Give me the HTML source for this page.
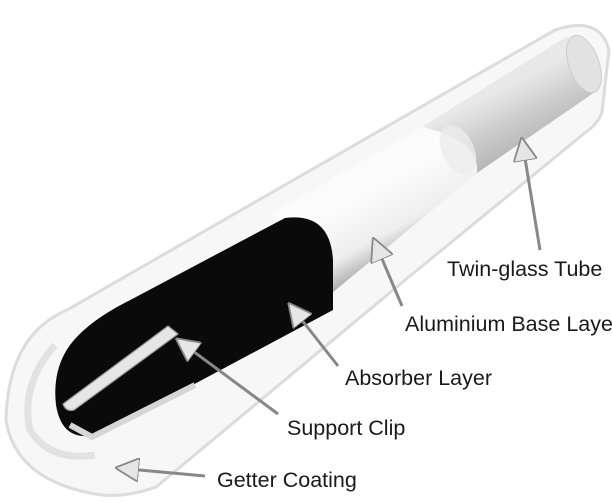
<!DOCTYPE html>
<html><head><style>
body{margin:0;background:#fff;}
svg{display:block}
text{font-family:"Liberation Sans",sans-serif;font-size:21.5px;fill:#1a1a1a}
</style></head><body>
<svg width="612" height="503" viewBox="0 0 612 503" xmlns="http://www.w3.org/2000/svg">
<defs>
<linearGradient id="alu" x1="330" y1="215" x2="370" y2="290" gradientUnits="userSpaceOnUse">
<stop offset="0" stop-color="#fbfbfb"/><stop offset="0.5" stop-color="#eeeeee"/><stop offset="1" stop-color="#8a8a8a"/></linearGradient>
<linearGradient id="inn" x1="500" y1="90" x2="530" y2="150" gradientUnits="userSpaceOnUse">
<stop offset="0" stop-color="#e8e8e8"/><stop offset="0.5" stop-color="#cccccc"/><stop offset="1" stop-color="#b4b4b4"/></linearGradient>
<marker id="ah" markerWidth="8" markerHeight="8" refX="1" refY="4" orient="auto" markerUnits="strokeWidth">
<path d="M8,0 L0,4 L8,8 Z" fill="#e6e6e6" stroke="#888" stroke-width="0.6"/></marker>
</defs>
<path d="M555,30 Q600,15 609,50 L602,112 Q598,124 586,132 L410,276 L156,487 Q120,500 90,493 Q15,478 6,420 Q8,335 67,310 Z" fill="#f7f7f7" stroke="#dcdcdc" stroke-width="3"/>
<path d="M422,127 L566,37 Q600,45 598,90 L477,173 Z" fill="url(#inn)"/>
<ellipse cx="584" cy="64" rx="15" ry="30" transform="rotate(-20 584 64)" fill="#e2e2e2" stroke="#cccccc"/>
<path d="M273,213 L422,127 Q480,140 477,173 L332,293 Z" fill="url(#alu)"/>
<ellipse cx="458" cy="150" rx="16" ry="26" transform="rotate(-25 458 150)" fill="#ececec" opacity="0.8"/>
<path d="M117,307 L285,218 Q330,212 333,260 L333,310 L187,388 L95,435 Q62,442 56,405 Q52,370 70,345 Q85,325 117,307 Z" fill="#0a0a0a"/>
<path d="M168,326 L178,334 L74,410 Q66,412 63,404 Z" fill="#e6e6e6" stroke="#9a9a9a" stroke-width="1.2"/>
<path d="M195,385 L92,437 L70,425" stroke="#d6d6d6" stroke-width="6" fill="none"/>
<path d="M55,345 Q20,385 30,430 Q50,462 95,455" stroke="#e2e2e2" stroke-width="7" fill="none"/>
<g stroke="#888" stroke-width="3" fill="none" marker-start="url(#ah)">
<line x1="522" y1="140" x2="540" y2="250"/>
<line x1="374" y1="240" x2="402" y2="306"/>
<line x1="290" y1="305" x2="338" y2="366"/>
<line x1="178" y1="340" x2="278" y2="414"/>
<line x1="118" y1="468" x2="205" y2="476"/>
</g>
<text x="447" y="276">Twin-glass Tube</text>
<text x="405" y="331">Aluminium Base Laye</text>
<text x="345" y="385">Absorber Layer</text>
<text x="287" y="435">Support Clip</text>
<text x="217" y="487">Getter Coating</text>
</svg>
</body></html>
